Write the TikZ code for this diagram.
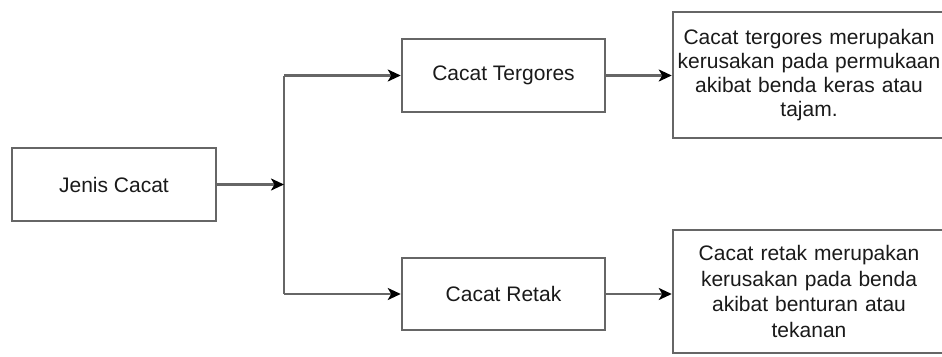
\documentclass[tikz,border=0pt]{standalone}
\usepackage{fontspec}
\setmainfont{Liberation Sans}
\usetikzlibrary{arrows.meta}
\definecolor{linegray}{HTML}{666666}
\definecolor{txt}{HTML}{1A1A1A}
\begin{document}
\begin{tikzpicture}[x=1pt,y=-1pt,
  box/.style={draw=linegray, line width=2.5pt, fill=white, text=txt, inner sep=0pt,
    font=\fontsize{21}{24}\selectfont, align=center},
  conn/.style={draw=linegray, line width=2.5pt},
  arr/.style={conn, -{Stealth[length=13pt,width=12pt,inset=3.5pt,fill=black,color=black]}}]
\clip (0,0) rectangle (942,356);
\fill[white] (0,0) rectangle (942,356);
\node[box, minimum width=204pt, minimum height=73pt] (jc) at (114,184.5) {Jenis Cacat};
\node[box, minimum width=203pt, minimum height=73pt] (ct) at (503.5,75.5) {Cacat Tergores};
\node[box, minimum width=203pt, minimum height=72pt] (cr) at (503.5,294) {Cacat Retak};
\node[box, minimum width=272pt, minimum height=126pt, text width=272pt] (dt) at (809,75)
  {Cacat tergores merupakan\\kerusakan pada permukaan\\akibat benda keras atau\\tajam.};
\node[box, minimum width=272pt, minimum height=123pt, text width=272pt,
  font=\fontsize{21}{25.5}\selectfont] (dr) at (809,291.5)
  {Cacat retak merupakan\\kerusakan pada benda\\akibat benturan atau\\tekanan};
\coordinate (sp1) at (284,75.5);
\coordinate (sp2) at (284,294);
\draw[conn] (sp1) -- (sp2);
\draw[arr] (jc.east) -- (jc.east -| sp1);
\draw[arr] (sp1) -- (ct.west);
\draw[arr] (sp2) -- (cr.west);
\draw[arr] (ct.east) -- (ct.east -| dt.west);
\draw[arr] (cr.east) -- (cr.east -| dr.west);
\end{tikzpicture}
\end{document}
